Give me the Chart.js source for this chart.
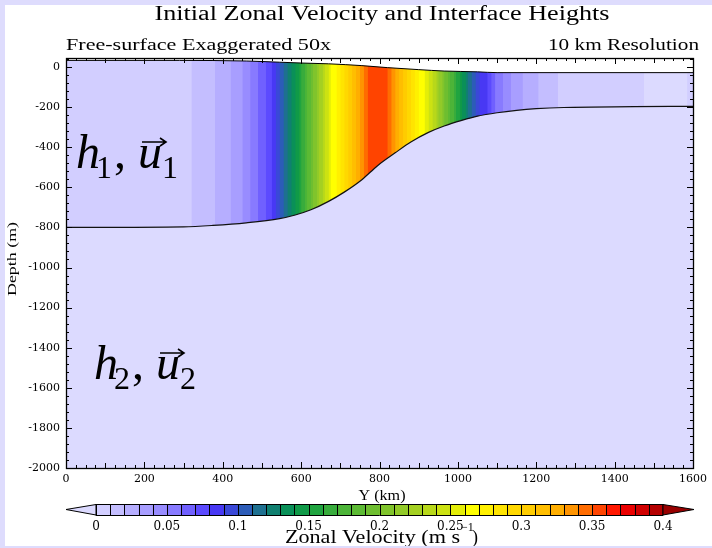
<!DOCTYPE html>
<html lang="en">
<head>
<meta charset="UTF-8">
<title>Initial Zonal Velocity and Interface Heights</title>
<style>
  html, body { margin: 0; padding: 0; background: #fff; }
  canvas { display: block; }
</style>
<script src="https://cdn.jsdelivr.net/npm/chart.js"></script>
</head>
<body>
<canvas id="chart" width="712" height="548"></canvas>
<script>
// free surface (x50) and layer interface: Y in km, height in m
const surfaceKm = [0, 290, 460, 545, 600, 670, 755, 820, 900, 965, 1050, 1100, 1600];
const surfaceM = [33, 33, 30, 24, 20, 16, 7, -3, -13, -20, -24, -28, -28];
const interfaceKm = [0, 300, 375, 460, 545, 585, 625, 670, 710, 755, 795, 840, 880, 925, 965, 1010, 1050, 1100, 1150, 1200, 1270, 1450, 1600];
const interfaceM = [-800, -797, -790, -777, -756, -738, -712, -670, -624, -562, -492, -428, -374, -326, -294, -266, -245, -228, -216, -208, -202, -198, -196];

// upper layer velocity bands: where each band starts (km) and its colour level (-1 = below 0)
const bandStartKm = [0, 320, 380, 420, 450, 470, 490, 510, 525, 535, 545, 555, 565, 575, 585, 595, 600, 610, 615, 625,
  630, 640, 645, 655, 660, 670, 675, 690, 700, 710, 720, 730, 740, 750, 760, 770,
  820, 830, 840, 850, 860, 870, 880, 890, 900, 915, 925, 935, 945, 950, 960, 965, 975, 980, 990, 995,
  1005, 1010, 1020, 1025, 1035, 1045, 1055, 1075, 1085, 1095, 1115, 1135, 1165, 1205, 1255, 1475, 1585];
const bandLevel = [0, 1, 2, 3, 4, 5, 6, 7, 8, 9, 10, 11, 12, 13, 14, 15, 16, 17, 18, 19,
  20, 21, 22, 23, 24, 25, 26, 27, 28, 29, 30, 31, 32, 33, 34, 35,
  34, 33, 32, 31, 30, 29, 28, 27, 26, 25, 24, 23, 22, 21, 20, 19, 18, 17, 16, 15,
  14, 13, 12, 11, 10, 9, 8, 7, 6, 5, 4, 3, 2, 1, 0, -1, 0];
const bandEndKm = 1600;

// colour bar, 0 to 0.4 m/s in 0.01 steps
const levelColors = ['#d2ceff', '#c4beff', '#b6aeff', '#a89eff', '#988cff', '#887aff', '#7060ff', '#5c4aff', '#4838f4', '#3a48d8',
  '#2c5cb8', '#1e7090', '#108070', '#0a9058', '#109a48', '#20a440', '#38ac3c', '#4cb438', '#5cba34', '#6ebe30',
  '#80c42c', '#92ca28', '#a4d022', '#b8d81a', '#cce212', '#e4ee08', '#ffff00', '#fff000', '#ffe400', '#ffd800',
  '#ffcc00', '#ffbe00', '#ffae00', '#ff9400', '#ff6c00', '#ff4400', '#ff1800', '#ea0000', '#d00000', '#b40000'];
const underColor = '#dcdaff';
const overColor = '#980000';
const cbarLabels = ['0', '0.05', '0.1', '0.15', '0.2', '0.25', '0.3', '0.35', '0.4'];

const distTicks = [0, 200, 400, 600, 800, 1000, 1200, 1400, 1600];
const depthTicks = [0, -200, -400, -600, -800, -1000, -1200, -1400, -1600, -1800, -2000];
const depthMin = -2000, depthMax = 45;

const datasets = [];
datasets.push({
  data: surfaceKm.map((x, i) => ({ x, y: surfaceM[i] })),
  fill: 'end', backgroundColor: '#ffffff', borderColor: '#000', borderWidth: 1,
  cubicInterpolationMode: 'monotone', pointRadius: 0, order: 0
});
datasets.push({
  data: interfaceKm.map((x, i) => ({ x, y: interfaceM[i] })),
  fill: 'start', backgroundColor: underColor, borderColor: '#111', borderWidth: 1.2,
  cubicInterpolationMode: 'monotone', pointRadius: 0, order: 1
});
// each band runs to the right edge, later bands painted over earlier ones
bandStartKm.forEach((x0, i) => {
  const c = bandLevel[i] < 0 ? underColor : levelColors[bandLevel[i]];
  datasets.push({
    data: [{ x: x0, y: depthMax }, { x: bandEndKm, y: depthMax }],
    fill: 'start', backgroundColor: c, borderColor: 'rgba(0,0,0,0)', borderWidth: 1,
    pointRadius: 0, order: 1000 - i
  });
});

function fitText(ctx, text, x, y, width, align) {
  const m = ctx.measureText(text).width;
  ctx.save();
  ctx.translate(x, y);
  ctx.scale(width / m, 1);
  ctx.textAlign = align;
  ctx.fillText(text, 0, 0);
  ctx.restore();
}

function layerLabel(ctx, x, y, n) {
  ctx.fillStyle = '#000';
  ctx.textAlign = 'left';
  ctx.textBaseline = 'alphabetic';
  ctx.font = 'italic 48px "Liberation Serif"';
  ctx.fillText('h', x, y);
  ctx.fillText('u', x + 62, y);
  ctx.font = '32px "Liberation Serif"';
  ctx.fillText(n, x + 20, y + 10);
  ctx.fillText(n, x + 86, y + 10);
  ctx.font = '48px "Liberation Serif"';
  ctx.fillText(',', x + 38, y);
  // vector arrow over u
  const ay = y - 26;
  ctx.strokeStyle = '#000';
  ctx.lineWidth = 1.6;
  ctx.beginPath();
  ctx.moveTo(x + 66, ay); ctx.lineTo(x + 90, ay);
  ctx.moveTo(x + 84, ay - 4); ctx.lineTo(x + 90, ay); ctx.lineTo(x + 84, ay + 4);
  ctx.stroke();
}

const decor = {
  id: 'decor',
  beforeDraw(chart) {
    const ctx = chart.ctx;
    ctx.save();
    ctx.fillStyle = '#fff';
    ctx.fillRect(0, 0, chart.width, chart.height);
    ctx.restore();
  },
  afterDraw(chart) {
    const ctx = chart.ctx, ca = chart.chartArea;
    const xs = chart.scales.x, ys = chart.scales.y;
    ctx.save();
    ctx.strokeStyle = '#000';
    ctx.lineWidth = 1;
    ctx.beginPath();
    // y ticks on both sides, pointing in
    for (let v = depthMin; v <= depthMax; v += 40) {
      const p = Math.round(ys.getPixelForValue(v)) + 0.5;
      const len = v % 200 === 0 ? 6 : 3;
      ctx.moveTo(ca.left, p); ctx.lineTo(ca.left + len, p);
      ctx.moveTo(ca.right, p); ctx.lineTo(ca.right - len, p);
    }
    // x ticks top and bottom
    for (let v = 0; v <= 1600; v += 25) {
      const p = Math.round(xs.getPixelForValue(v)) + 0.5;
      const len = v % 200 === 0 ? 6 : (v % 100 === 0 ? 5 : 3);
      ctx.moveTo(p, ca.bottom); ctx.lineTo(p, ca.bottom - len);
      ctx.moveTo(p, ca.top); ctx.lineTo(p, ca.top + len);
    }
    ctx.stroke();
    ctx.lineWidth = 1.3;
    ctx.strokeRect(ca.left + 0.5, ca.top + 0.5, ca.right - ca.left, ca.bottom - ca.top);

    // layer labels
    layerLabel(ctx, 76, 168, '1');
    layerLabel(ctx, 94, 379, '2');

    // titles
    ctx.fillStyle = '#000';
    ctx.textBaseline = 'alphabetic';
    ctx.font = '20px "Liberation Serif"';
    fitText(ctx, 'Initial Zonal Velocity and Interface Heights', 382, 20, 455, 'center');
    ctx.font = '16px "Liberation Serif"';
    fitText(ctx, 'Free-surface Exaggerated 50x', 66, 50, 265, 'left');
    fitText(ctx, '10 km Resolution', 699, 50, 151, 'right');
    ctx.font = '14px "Liberation Serif"';
    fitText(ctx, 'Y (km)', 382, 500, 47, 'center');
    ctx.save();
    ctx.translate(13, 259);
    ctx.rotate(-Math.PI / 2);
    ctx.font = '13px "Liberation Serif"';
    ctx.textBaseline = 'middle';
    fitText(ctx, 'Depth (m)', 0, 0, 74, 'center');
    ctx.restore();

    // colour bar
    const cbL = ca.left + 30, cbR = ca.right - 30, cbT = 504, cbH = 11;
    const w = (cbR - cbL) / levelColors.length;
    const mid = cbT + cbH / 2;
    levelColors.forEach((c, i) => {
      ctx.fillStyle = c;
      ctx.fillRect(cbL + i * w, cbT, w + 0.5, cbH);
    });
    ctx.lineWidth = 1;
    ctx.strokeStyle = '#000';
    ctx.beginPath();
    for (let i = 0; i <= levelColors.length; i++) {
      const p = Math.round(cbL + i * w) + 0.5;
      ctx.moveTo(p, cbT); ctx.lineTo(p, cbT + cbH);
    }
    ctx.rect(cbL, cbT + 0.5, cbR - cbL, cbH);
    ctx.stroke();
    ctx.beginPath();
    ctx.moveTo(ca.left, mid); ctx.lineTo(cbL, cbT + 0.5); ctx.lineTo(cbL, cbT + cbH); ctx.closePath();
    ctx.fillStyle = underColor; ctx.fill(); ctx.stroke();
    ctx.beginPath();
    ctx.moveTo(ca.right + 1, mid); ctx.lineTo(cbR, cbT + 0.5); ctx.lineTo(cbR, cbT + cbH); ctx.closePath();
    ctx.fillStyle = overColor; ctx.fill(); ctx.stroke();

    ctx.fillStyle = '#000';
    ctx.font = '12px "DejaVu Serif"';
    ctx.textAlign = 'center';
    cbarLabels.forEach((t, j) => ctx.fillText(t, cbL + j * 5 * w, 530));

    ctx.font = '18px "Liberation Serif"';
    fitText(ctx, 'Zonal Velocity (m s', 285, 543, 175, 'left');
    ctx.font = '12px "Liberation Serif"';
    ctx.textAlign = 'left';
    ctx.fillText('\u22121', 461, 531);
    ctx.font = '18px "Liberation Serif"';
    ctx.fillText(')', 472, 543);

    // lavender page border
    ctx.fillStyle = '#dedcfd';
    ctx.fillRect(0, 0, chart.width, 5);
    ctx.fillRect(0, 0, 5, chart.height);
    ctx.fillRect(0, chart.height - 2, chart.width, 2);
    ctx.restore();
  }
};

const axisFont = { family: 'DejaVu Serif', size: 11 };

new Chart(document.getElementById('chart'), {
  type: 'line',
  data: { datasets },
  options: {
    responsive: false,
    animation: false,
    devicePixelRatio: 1,
    layout: { padding: { top: 58, right: 14, bottom: 60, left: 0 } },
    plugins: { legend: { display: false }, tooltip: { enabled: false }, title: { display: false } },
    scales: {
      x: {
        type: 'linear', min: 0, max: 1600,
        afterBuildTicks: s => { s.ticks = distTicks.map(v => ({ value: v })); },
        afterFit: s => { s.height = 20; },
        grid: { display: false, drawTicks: false },
        border: { display: false },
        ticks: { font: axisFont, color: '#000', padding: 5, maxRotation: 0, autoSkip: false, callback: v => String(v) }
      },
      y: {
        type: 'linear', min: depthMin, max: depthMax,
        afterBuildTicks: s => { s.ticks = depthTicks.map(v => ({ value: v })); },
        afterFit: s => { s.width = 66; },
        grid: { display: false, drawTicks: false },
        border: { display: false },
        ticks: { font: axisFont, color: '#000', padding: 6, autoSkip: false, callback: v => String(v) }
      }
    }
  },
  plugins: [decor]
});
</script>
</body>
</html>
